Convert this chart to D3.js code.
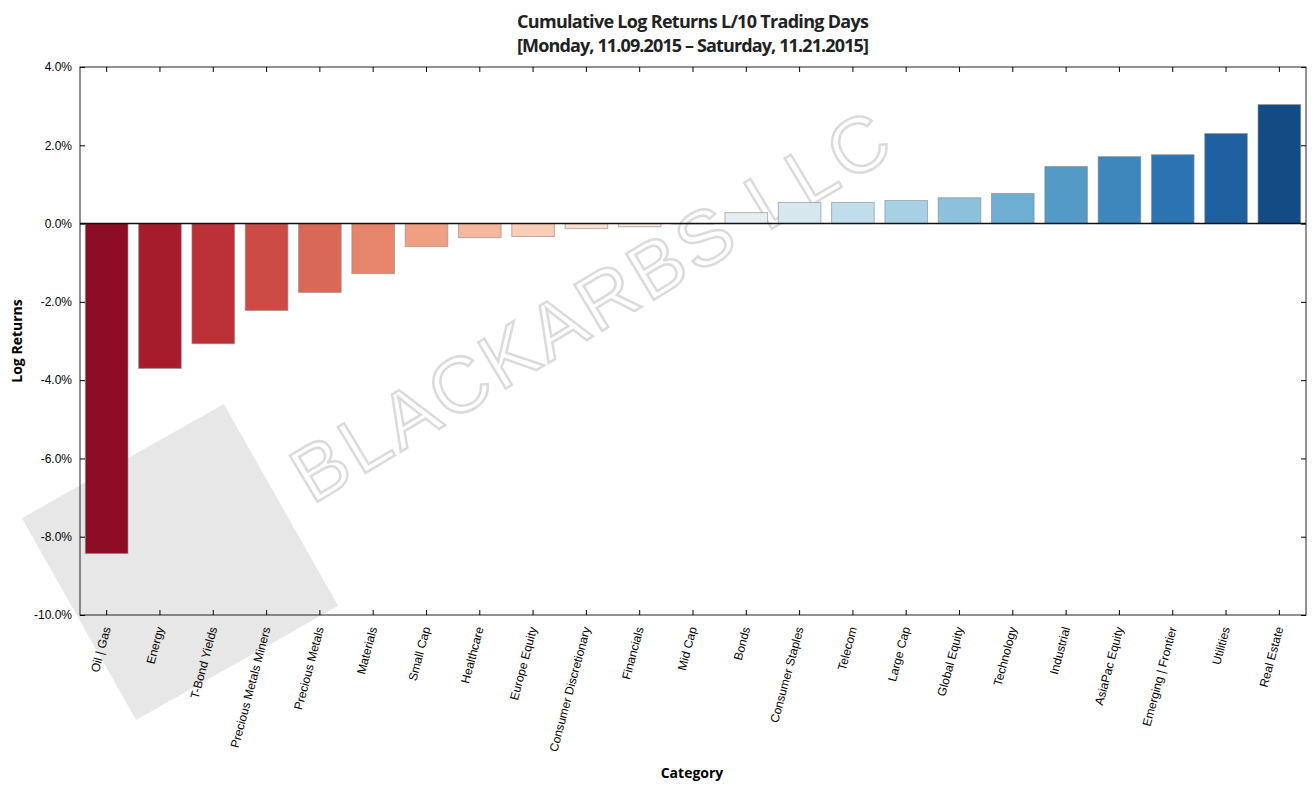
<!DOCTYPE html><html><head><meta charset="utf-8"><script src="https://cdn.jsdelivr.net/npm/d3@7"></script>
<style>body{margin:0;background:#fff;font-family:"Open Sans",sans-serif}</style></head><body><svg id="c" width="1314" height="792"></svg>
<script>
const categories=["Oil | Gas","Energy","T-Bond Yields","Precious Metals Miners","Precious Metals","Materials","Small Cap","Healthcare","Europe Equity","Consumer Discretionary","Financials","Mid Cap","Bonds","Consumer Staples","Telecom","Large Cap","Global Equity","Technology","Industrial","AsiaPac Equity","Emerging | Frontier","Utilities","Real Estate"];
const values=[-8.43,-3.70,-3.07,-2.22,-1.76,-1.28,-0.59,-0.36,-0.33,-0.13,-0.08,-0.01,0.28,0.54,0.54,0.59,0.66,0.77,1.46,1.71,1.76,2.30,3.04];
const yTicks=[4,2,0,-2,-4,-6,-8,-10];
const svg=d3.select("#c");
const L=80,R=1306,T=67,B=615;
const x=d3.scaleBand().domain(categories).range([L,R]).paddingInner(0.2).paddingOuter(0.1);
const y=d3.scaleLinear().domain([-10,4]).range([B,T]);
// watermark
const wm=svg.append("g");
wm.append("rect").attr("x",-116).attr("y",-116).attr("width",232).attr("height",232).attr("fill","#888").attr("opacity",0.2).attr("transform","translate(180,562) rotate(-29.5)");
wm.append("text").attr("transform","translate(312,505) rotate(-31)").attr("font-family","Liberation Sans").attr("font-size",78).attr("fill","none").attr("stroke","#999").attr("stroke-opacity",0.35).attr("stroke-width",2.5).attr("letter-spacing",4).text("BLACKARBS LLC");
const color=i=>d3.interpolateRdBu(0.05+0.9*i/(categories.length-1));
svg.append("g").selectAll("rect").data(values).join("rect")
 .attr("x",(d,i)=>x(categories[i])).attr("width",x.bandwidth())
 .attr("y",d=>y(Math.max(0,d))).attr("height",d=>Math.abs(y(d)-y(0)))
 .attr("fill",(d,i)=>color(i)).attr("stroke","#888").attr("stroke-opacity",0.6).attr("stroke-width",1);
svg.append("line").attr("x1",L).attr("x2",R).attr("y1",y(0)).attr("y2",y(0)).attr("stroke","#111").attr("stroke-width",1.5);
svg.append("rect").attr("x",L).attr("y",T).attr("width",R-L).attr("height",B-T).attr("fill","none").attr("stroke","#222");
const fmt=d=>d.toFixed(1)+"%";
svg.append("g").attr("transform",`translate(${L},0)`).call(d3.axisLeft(y).tickValues(yTicks).tickFormat(fmt).tickSize(-5).tickPadding(8)).call(g=>g.select(".domain").remove()).selectAll("text").attr("font-size",12);
svg.append("g").attr("transform",`translate(${R},0)`).call(d3.axisRight(y).tickValues(yTicks).tickFormat("").tickSize(-5)).call(g=>g.select(".domain").remove());
const xa=svg.append("g").attr("transform",`translate(0,${B})`).call(d3.axisBottom(x).tickSize(-5).tickPadding(0));
xa.select(".domain").remove();
xa.selectAll("text").attr("font-size",12).attr("text-anchor","end").attr("dy","0.35em").attr("transform","translate(0,12) rotate(-75)");
svg.append("g").attr("transform",`translate(0,${T})`).call(d3.axisTop(x).tickSize(-5).tickFormat("")).select(".domain").remove();
svg.append("text").attr("x",693).attr("y",28).attr("text-anchor","middle").attr("font-size",18).attr("font-weight","bold").attr("fill","#222").attr("textLength",352).text("Cumulative Log Returns L/10 Trading Days");
svg.append("text").attr("x",693).attr("y",52).attr("text-anchor","middle").attr("font-size",18).attr("font-weight","bold").attr("fill","#222").attr("textLength",352).text("[Monday, 11.09.2015 – Saturday, 11.21.2015]");
svg.append("text").attr("x",692).attr("y",778).attr("text-anchor","middle").attr("font-size",14).attr("font-weight","bold").text("Category");
svg.append("text").attr("transform","translate(22,341) rotate(-90)").attr("text-anchor","middle").attr("font-size",14).attr("font-weight","bold").text("Log Returns");
</script></body></html>
